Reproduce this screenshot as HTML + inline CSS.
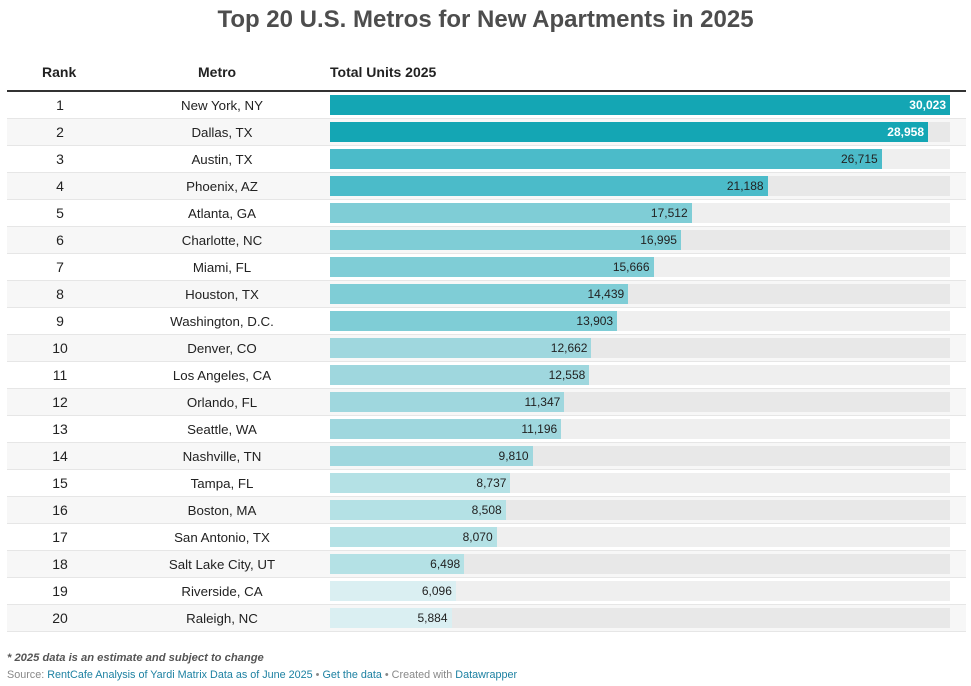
<!DOCTYPE html>
<html><head><meta charset="utf-8"><style>
body{margin:0;width:971px;height:686px;background:#fff;font-family:"Liberation Sans",Arial,sans-serif;color:#222;position:relative;overflow:hidden}
#title{position:absolute;left:0;width:971px;top:6px;text-align:center;font-size:24px;font-weight:bold;color:#4d4d4d}
.hdr{position:absolute;top:64px;font-size:14px;font-weight:bold;color:#222}
#rule{position:absolute;left:7px;width:959px;top:90px;height:2px;background:#333}
.row{position:absolute;left:7px;width:959px;height:26px;border-bottom:1px solid #e6e6e6}
.row.even{background:#f7f7f7}
.rank{position:absolute;left:0;width:106px;text-align:center;top:5px;font-size:14px}
.metro{position:absolute;left:115px;width:200px;text-align:center;top:6px;font-size:13.3px}
.track{position:absolute;left:323px;width:620px;top:3px;height:20px}
.bar{position:absolute;left:0;top:0;height:20px}
.val{position:absolute;right:4px;top:3px;font-size:12px}
#note{position:absolute;left:7px;top:652px;font-size:11.2px;font-weight:bold;font-style:italic;color:#555}
#src{position:absolute;left:7px;top:669px;font-size:10.8px;color:#888}
#src a{color:#1d81a2;text-decoration:none}
</style></head><body>
<div id="title">Top 20 U.S. Metros for New Apartments in 2025</div>
<div class="hdr" style="left:42px">Rank</div>
<div class="hdr" style="left:198px">Metro</div>
<div class="hdr" style="left:330px">Total Units 2025</div>
<div id="rule"></div>
<div id="rows"></div>
<div id="note">* 2025 data is an estimate and subject to change</div>
<div id="src">Source: <a>RentCafe Analysis of Yardi Matrix Data as of June 2025</a> • <a>Get the data</a> • Created with <a>Datawrapper</a></div>
<script>
const metros=["New York, NY","Dallas, TX","Austin, TX","Phoenix, AZ","Atlanta, GA","Charlotte, NC","Miami, FL","Houston, TX","Washington, D.C.","Denver, CO","Los Angeles, CA","Orlando, FL","Seattle, WA","Nashville, TN","Tampa, FL","Boston, MA","San Antonio, TX","Salt Lake City, UT","Riverside, CA","Raleigh, NC"];
const units=[30023,28958,26715,21188,17512,16995,15666,14439,13903,12662,12558,11347,11196,9810,8737,8508,8070,6498,6096,5884];
const maxUnits=30023;
function colorFor(i){if(i<2)return"#14a6b4";if(i<4)return"#4bbbc9";if(i<9)return"#7fcdd6";if(i<14)return"#9fd7de";if(i<18)return"#b4e1e5";return"#daeff2";}
const root=document.getElementById('rows');
units.forEach((v,i)=>{
 const r=document.createElement('div');r.className='row'+(i%2?' even':'');r.style.top=(92+i*27)+'px';
 
 
 const rk=document.createElement('div');rk.className='rank';rk.textContent=i+1;
 
 
 const m=document.createElement('div');m.className='metro';m.textContent=metros[i];
 
 
 const t=document.createElement('div');t.className='track';t.style.background=i%2?'#e8e8e8':'#efefef';
 
 
 const b=document.createElement('div');b.className='bar';b.style.width=(v/maxUnits*620)+'px';b.style.background=colorFor(i);
 
 
 const l=document.createElement('div');l.className='val';l.textContent=v.toLocaleString('en-US');l.style.color=i<2?'#fff':'#222';if(i<2)l.style.fontWeight='bold';
 
 
 b.appendChild(l);t.appendChild(b);r.appendChild(rk);r.appendChild(m);r.appendChild(t);root.appendChild(r);
});
</script>
</body></html>
